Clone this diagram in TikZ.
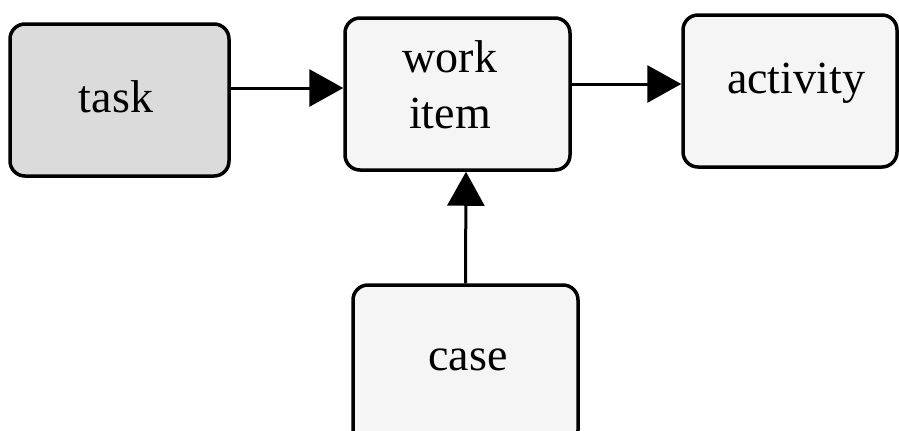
\documentclass[tikz,border=0pt]{standalone}
\usepackage{fontspec}
\setmainfont{Liberation Serif}
\usepackage{xcolor}
\usepackage{tikz}
\usetikzlibrary{arrows.meta}

\definecolor{taskgray}{gray}{0.86}
\definecolor{boxgray}{gray}{0.96}

\begin{document}
\begin{tikzpicture}[x=0.5pt,y=-0.5pt,
	box/.style={draw,line width=1.75pt,rounded corners=7.5pt,fill=boxgray,inner sep=0pt},
	lbl/.style={font=\fontsize{23}{28}\selectfont,inner sep=0pt,align=center},
	arr/.style={-{Triangle[length=17pt,width=18.5pt]},line width=1.5pt}]
		\useasboundingbox (0,0) rectangle (899,430);
		\clip (0,0) rectangle (899,430);
		%
		\node[box,fill=taskgray,minimum width=109.5pt,minimum height=76pt] (task) at (119.5,100) {};
		\node[box,minimum width=112.5pt,minimum height=76pt] (wi) at (457.5,94) {};
		\node[box,minimum width=107pt,minimum height=76pt] (act) at (790,91) {};
		\node[box,minimum width=112.5pt,minimum height=80pt] (case) at (465.5,365) {};
		%
		\node[lbl,anchor=base] (tasklbl) at (116,112) {task};
		\node[lbl] (wilbl) at (450,85) {work\\item};
		\node[lbl,anchor=base] (actlbl) at (796,93) {activity};
		\node[lbl,anchor=base] (caselbl) at (468,370) {case};
		%
		\path[arr]
		([yshift=6pt]task.east) edge ([yshift=3pt]wi.west)
		([yshift=5pt]wi.east) edge ([yshift=3.5pt]act.west)
		(case.north) edge ([xshift=4.25pt]wi.south);
\end{tikzpicture}
\end{document}
